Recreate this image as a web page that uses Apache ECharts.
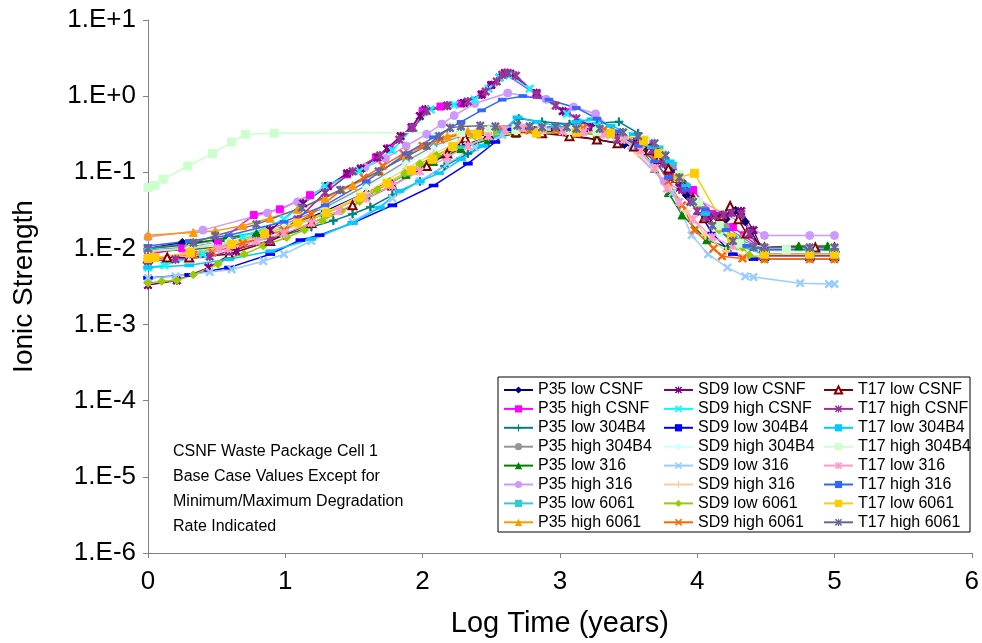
<!DOCTYPE html>
<html>
<head>
<meta charset="utf-8">
<script src="https://cdn.jsdelivr.net/npm/echarts@6/dist/echarts.min.js"></script>
<style>
html,body{margin:0;padding:0;background:#fff;}
#chart{width:982px;height:643px;}
</style>
</head>
<body>
<div id="chart"></div>
<script>
// ---------- tick labels ----------
const yTickLabels = ['1.E-6','1.E-5','1.E-4','1.E-3','1.E-2','1.E-1','1.E+0','1.E+1'];
const xTickLabels = ['0','1','2','3','4','5','6'];
const annotationLines = ['CSNF Waste Package Cell 1','Base Case Values Except for','Minimum/Maximum Degradation','Rate Indicated'];

// ---------- series names ----------
const seriesNames = [
  'P35 low CSNF','P35 high CSNF','P35 low 304B4','P35 high 304B4','P35 low 316','P35 high 316','P35 low 6061','P35 high 6061',
  'SD9 low CSNF','SD9 high CSNF','SD9 low 304B4','SD9 high 304B4','SD9 low 316','SD9 high 316','SD9 low 6061','SD9 high 6061',
  'T17 low CSNF','T17 high CSNF','T17 low 304B4','T17 high 304B4','T17 low 316','T17 high 316','T17 low 6061','T17 high 6061'
];

// ---------- data (x = log time in years, y = ionic strength) ----------
const P35_low_CSNF_x = [0,0.25,0.5,0.79,0.99,1.29,1.59,1.88,2.08,2.28,2.48,2.68,2.87,3.07,3.27,3.47,3.62,3.72,3.82,3.92,4.01,4.11,4.21,4.28,4.35,4.49,4.82,5.0];
const P35_low_CSNF_y = [0.01,0.012,0.0125,0.0149,0.0191,0.0309,0.054,0.094,0.148,0.222,0.288,0.326,0.335,0.307,0.269,0.232,0.195,0.148,0.085,0.05,0.0326,0.0258,0.0241,0.0317,0.0224,0.0084,0.0084,0.0084];

const P35_high_CSNF_x = [0,0.25,0.51,0.77,0.96,1.18,1.31,1.45,1.66,1.76,1.92,2.0,2.13,2.28,2.43,2.5,2.6,2.83,3.05,3.24,3.47,3.67,3.82,3.97,4.11,4.26,4.34,4.49,4.82,5.0];
const P35_high_CSNF_y = [0.0084,0.01,0.0119,0.0275,0.0326,0.05,0.066,0.094,0.157,0.204,0.39,0.635,0.73,0.8,1.05,1.4,1.97,1.05,0.615,0.39,0.288,0.232,0.121,0.0586,0.0283,0.0191,0.0149,0.0092,0.0092,0.0092];

const P35_low_304B4_x = [0,0.3,0.59,0.99,1.19,1.35,1.49,1.62,1.78,1.98,2.16,2.33,2.48,2.6,2.7,2.87,3.07,3.27,3.43,3.57,3.69,3.79,3.89,4.01,4.16,4.31,4.49,4.82,5.0];
const P35_low_304B4_y = [0.0092,0.0096,0.0108,0.0149,0.0191,0.0232,0.0283,0.035,0.05,0.076,0.121,0.176,0.25,0.364,0.508,0.46,0.43,0.44,0.46,0.326,0.222,0.13,0.076,0.0368,0.0199,0.0117,0.01,0.01,0.01];

const P35_high_304B4_x = [0,0.3,0.59,0.99,1.29,1.59,1.88,2.08,2.28,2.48,2.68,2.87,3.07,3.27,3.47,3.62,3.72,3.82,3.92,4.06,4.21,4.33,4.49,4.82,5.0];
const P35_high_304B4_y = [0.01,0.0113,0.0133,0.0207,0.0343,0.067,0.139,0.222,0.298,0.355,0.383,0.383,0.373,0.355,0.307,0.25,0.176,0.112,0.067,0.0326,0.0191,0.0139,0.0092,0.0092,0.0092];

const P35_low_316_x = [0,0.3,0.57,0.79,0.99,1.29,1.59,1.88,2.08,2.28,2.48,2.68,2.87,3.07,3.27,3.47,3.59,3.69,3.79,3.89,4.07,4.22,4.49,4.74,4.95];
const P35_low_316_y = [0.01,0.0113,0.0139,0.0157,0.0191,0.0292,0.05,0.094,0.139,0.204,0.269,0.326,0.345,0.335,0.316,0.269,0.213,0.112,0.054,0.0275,0.013,0.0103,0.0104,0.0108,0.0108];

const P35_high_316_x = [0,0.4,0.87,1.09,1.29,1.58,1.73,1.88,2.03,2.14,2.23,2.38,2.62,2.9,3.1,3.26,3.76,4.49,4.82,5.0];
const P35_high_316_y = [0.0141,0.0174,0.0292,0.041,0.063,0.116,0.152,0.222,0.316,0.43,0.556,0.8,1.1,0.91,0.72,0.586,0.076,0.0148,0.0148,0.0148];

const P35_low_6061_x = [0,0.3,0.59,0.99,1.29,1.59,1.88,2.08,2.28,2.48,2.68,2.87,3.07,3.27,3.47,3.62,3.72,3.82,3.92,4.06,4.26,4.49,4.82,5.0];
const P35_low_6061_y = [0.0096,0.0104,0.0125,0.0174,0.0283,0.05,0.094,0.148,0.213,0.288,0.345,0.364,0.355,0.345,0.316,0.269,0.213,0.13,0.067,0.0283,0.0141,0.0096,0.0096,0.0096];

const P35_high_6061_x = [0,0.33,0.49,0.69,0.89,1.09,1.29,1.49,1.69,1.88,2.03,2.18,2.33,2.48,2.68,2.87,3.07,3.27,3.47,3.62,3.75,3.87,4.01,4.16,4.31,4.49,4.82,5.0];
const P35_high_6061_y = [0.0149,0.0162,0.017,0.0199,0.0249,0.0326,0.0455,0.067,0.103,0.167,0.232,0.298,0.345,0.373,0.383,0.364,0.345,0.335,0.307,0.25,0.157,0.085,0.0368,0.0174,0.0108,0.0096,0.0096,0.0096];

const SD9_low_CSNF_x = [0,0.21,0.44,0.64,0.89,1.13,1.31,1.45,1.55,1.67,1.74,1.84,1.92,1.98,2.02,2.18,2.3,2.43,2.5,2.56,2.6,2.64,2.83,3.02,3.24,3.42,3.57,3.65,3.72,3.79,3.87,3.95,4.01,4.08,4.16,4.24,4.32,4.41,4.49,4.82,5.0];
const SD9_low_CSNF_y = [0.0033,0.0038,0.0056,0.0092,0.0174,0.039,0.066,0.097,0.112,0.157,0.204,0.298,0.39,0.547,0.67,0.75,0.81,1.05,1.4,1.76,2.02,1.97,1.1,0.635,0.39,0.288,0.241,0.213,0.157,0.103,0.063,0.041,0.0309,0.0258,0.0267,0.03,0.0309,0.0174,0.008,0.008,0.008];

const SD9_high_CSNF_x = [0,0.12,0.4,0.69,0.99,1.29,1.54,1.78,1.93,2.06,2.23,2.38,2.48,2.56,2.63,2.78,3.05,3.27,3.47,3.62,3.75,3.87,4.01,4.16,4.31,4.49,4.82,5.0];
const SD9_high_CSNF_y = [0.0056,0.006,0.0084,0.0141,0.0241,0.066,0.103,0.195,0.383,0.67,0.77,0.9,1.25,1.76,1.86,1.25,0.586,0.41,0.298,0.241,0.157,0.085,0.0368,0.0174,0.0108,0.0084,0.0084,0.0084];

const SD9_low_304B4_x = [0,0.3,0.59,0.89,1.11,1.25,1.49,1.78,2.08,2.33,2.53,2.63,2.78,2.97,3.17,3.37,3.57,3.69,3.82,3.97,4.11,4.26,4.41,4.49,4.82,5.0];
const SD9_low_304B4_y = [0.0041,0.0045,0.0056,0.0084,0.0129,0.0149,0.0216,0.0368,0.067,0.13,0.25,0.364,0.383,0.364,0.355,0.326,0.269,0.195,0.103,0.041,0.0157,0.0084,0.0072,0.0072,0.0072,0.0072];

const SD9_high_304B4_x = [0,0.3,0.59,0.99,1.29,1.59,1.88,2.08,2.28,2.48,2.68,2.87,3.07,3.27,3.47,3.62,3.75,3.87,4.01,4.16,4.31,4.49,4.82,5.0];
const SD9_high_304B4_y = [0.0092,0.01,0.0125,0.0191,0.0326,0.063,0.13,0.204,0.288,0.364,0.42,0.40,0.383,0.364,0.326,0.269,0.176,0.085,0.0326,0.0157,0.0108,0.0092,0.0092,0.0092];

const SD9_low_316_x = [0,0.2,0.45,0.61,0.84,0.99,1.19,1.49,1.78,1.98,2.18,2.38,2.58,2.78,2.97,3.17,3.37,3.52,3.67,3.82,3.96,4.08,4.22,4.35,4.41,4.75,4.96,5.0];
const SD9_low_316_y = [0.0041,0.0043,0.0049,0.0053,0.0068,0.0084,0.0125,0.0224,0.0455,0.076,0.13,0.213,0.307,0.364,0.364,0.355,0.307,0.222,0.13,0.054,0.0149,0.0084,0.0056,0.0043,0.0042,0.0035,0.0034,0.0034];

const SD9_high_316_x = [0,0.3,0.59,0.99,1.29,1.59,1.88,2.08,2.28,2.48,2.68,2.87,3.07,3.27,3.42,3.57,3.69,3.79,3.92,4.06,4.21,4.36,4.49,4.82,5.0];
const SD9_high_316_y = [0.0092,0.01,0.0117,0.0174,0.0292,0.054,0.112,0.176,0.26,0.326,0.364,0.373,0.364,0.335,0.269,0.176,0.112,0.063,0.0309,0.0149,0.0092,0.008,0.008,0.008,0.008];

const SD9_low_6061_x = [0,0.1,0.21,0.33,0.51,0.59,0.7,0.84,1.01,1.14,1.27,1.41,1.54,1.67,1.76,1.87,1.98,2.1,2.23,2.38,2.53,2.68,2.87,3.07,3.27,3.47,3.62,3.75,3.87,4.01,4.16,4.33,4.38,4.49,4.82,5.0];
const SD9_low_6061_y = [0.0035,0.0037,0.0038,0.0045,0.0062,0.0076,0.0084,0.0108,0.0139,0.0174,0.0232,0.0309,0.041,0.0586,0.076,0.097,0.13,0.167,0.222,0.298,0.345,0.364,0.364,0.355,0.345,0.307,0.25,0.176,0.085,0.0368,0.0174,0.0103,0.0082,0.0072,0.0072,0.0072];

const SD9_high_6061_x = [0,0.33,0.47,0.69,0.99,1.19,1.41,1.57,1.71,1.86,2.0,2.13,2.28,2.43,2.58,2.78,2.97,3.17,3.32,3.47,3.59,3.69,3.79,3.89,3.98,4.12,4.18,4.33,4.49,4.82,5.0];
const SD9_high_6061_y = [0.0075,0.0083,0.0088,0.0117,0.0174,0.0283,0.0586,0.085,0.121,0.176,0.222,0.269,0.316,0.345,0.364,0.355,0.364,0.383,0.364,0.307,0.232,0.148,0.076,0.0368,0.0174,0.01,0.0079,0.0074,0.0072,0.0072,0.0072];

const T17_low_CSNF_x = [0,0.14,0.3,0.59,0.89,1.19,1.49,1.78,2.03,2.18,2.31,2.48,2.68,2.87,3.07,3.27,3.42,3.54,3.65,3.72,3.79,3.85,3.91,3.97,4.05,4.12,4.18,4.24,4.3,4.36,4.49,4.86,5.0];
const T17_low_CSNF_y = [0.0074,0.0076,0.0076,0.0084,0.0125,0.0216,0.0368,0.067,0.121,0.176,0.279,0.316,0.335,0.326,0.298,0.269,0.241,0.218,0.195,0.148,0.112,0.085,0.063,0.0455,0.0249,0.0241,0.0267,0.036,0.0241,0.0157,0.0103,0.0103,0.0103];

const T17_high_CSNF_x = [0,0.2,0.45,0.59,0.89,1.09,1.29,1.49,1.69,1.83,1.93,2.03,2.18,2.33,2.46,2.54,2.58,2.62,2.68,2.83,2.97,3.12,3.27,3.42,3.57,3.67,3.75,3.82,3.89,3.95,4.0,4.06,4.13,4.19,4.25,4.32,4.38,4.49,4.82,5.0];
const T17_high_CSNF_y = [0.0068,0.0072,0.0078,0.0092,0.0127,0.0241,0.054,0.103,0.167,0.269,0.383,0.635,0.75,0.85,1.15,1.56,1.91,2.02,1.86,1.05,0.75,0.508,0.345,0.269,0.222,0.195,0.13,0.085,0.0586,0.041,0.0309,0.0258,0.0267,0.0275,0.0292,0.0283,0.0157,0.008,0.008,0.008];

const T17_low_304B4_x = [0,0.3,0.59,0.89,1.19,1.49,1.69,1.83,1.98,2.12,2.28,2.44,2.58,2.69,2.83,2.97,3.12,3.23,3.37,3.53,3.67,3.8,3.92,4.06,4.26,4.49,4.82,5.0];
const T17_low_304B4_y = [0.0056,0.006,0.0072,0.0092,0.0133,0.0216,0.0343,0.057,0.076,0.097,0.148,0.222,0.345,0.527,0.46,0.41,0.46,0.498,0.41,0.316,0.213,0.139,0.067,0.0283,0.0117,0.0084,0.0084,0.0084];

const T17_high_304B4_x = [0,0.05,0.11,0.29,0.47,0.61,0.71,0.92,2.28,2.48,2.68,2.87,3.07,3.27,3.47,3.62,3.75,3.87,4.01,4.16,4.31,4.65,5.0];
const T17_high_304B4_y = [0.063,0.067,0.081,0.121,0.176,0.25,0.316,0.326,0.335,0.345,0.364,0.364,0.355,0.345,0.316,0.269,0.176,0.094,0.041,0.0199,0.0117,0.0096,0.0096];

const T17_low_316_x = [0,0.3,0.51,0.58,0.79,0.99,1.19,1.39,1.59,1.78,1.98,2.18,2.33,2.48,2.6,2.73,2.87,3.02,3.17,3.32,3.47,3.59,3.69,3.78,3.87,3.97,4.11,4.26,4.49,4.82,5.0];
const T17_low_316_y = [0.0074,0.0084,0.01,0.01,0.0125,0.0157,0.0216,0.0309,0.0455,0.067,0.103,0.157,0.222,0.298,0.364,0.383,0.364,0.345,0.335,0.316,0.269,0.195,0.112,0.061,0.041,0.0241,0.0141,0.0108,0.01,0.01,0.01];

const T17_high_316_x = [0,0.3,0.59,0.99,1.29,1.59,1.88,2.08,2.28,2.43,2.58,2.73,2.92,3.12,3.27,3.42,3.57,3.69,3.79,3.92,4.06,4.21,4.36,4.49,4.82,5.0];
const T17_high_316_y = [0.0108,0.0125,0.0149,0.0224,0.0368,0.076,0.176,0.288,0.46,0.65,0.9,1.0,0.9,0.7,0.508,0.345,0.222,0.139,0.085,0.0586,0.0326,0.0174,0.0108,0.0096,0.0096,0.0096];

const T17_low_6061_x = [0,0.05,0.31,0.61,0.85,1.09,1.3,1.55,1.74,1.92,2.07,2.22,2.4,2.83,3.12,3.37,3.61,3.72,3.86,3.98,4.25,4.49,4.82,5.0];
const T17_low_6061_y = [0.0074,0.0076,0.0088,0.0113,0.0156,0.0216,0.0292,0.047,0.072,0.106,0.148,0.218,0.316,0.326,0.335,0.326,0.26,0.176,0.085,0.097,0.0139,0.0084,0.0084,0.0084];

const T17_high_6061_x = [0,0.33,0.49,0.79,1.12,1.4,1.68,1.9,2.03,2.12,2.2,2.28,2.42,2.53,2.69,2.78,2.87,2.97,3.05,3.12,3.29,3.46,3.57,3.69,3.77,3.87,3.97,4.11,4.26,4.41,4.49,4.82,5.0];
const T17_high_6061_y = [0.01,0.0119,0.0147,0.0207,0.0343,0.0586,0.103,0.167,0.222,0.298,0.383,0.40,0.41,0.40,0.41,0.40,0.39,0.40,0.39,0.373,0.373,0.335,0.298,0.241,0.167,0.085,0.041,0.0199,0.0125,0.0104,0.0103,0.0103,0.0103];

const seriesX = [P35_low_CSNF_x,P35_high_CSNF_x,P35_low_304B4_x,P35_high_304B4_x,P35_low_316_x,P35_high_316_x,P35_low_6061_x,P35_high_6061_x,
  SD9_low_CSNF_x,SD9_high_CSNF_x,SD9_low_304B4_x,SD9_high_304B4_x,SD9_low_316_x,SD9_high_316_x,SD9_low_6061_x,SD9_high_6061_x,
  T17_low_CSNF_x,T17_high_CSNF_x,T17_low_304B4_x,T17_high_304B4_x,T17_low_316_x,T17_high_316_x,T17_low_6061_x,T17_high_6061_x];
const seriesY = [P35_low_CSNF_y,P35_high_CSNF_y,P35_low_304B4_y,P35_high_304B4_y,P35_low_316_y,P35_high_316_y,P35_low_6061_y,P35_high_6061_y,
  SD9_low_CSNF_y,SD9_high_CSNF_y,SD9_low_304B4_y,SD9_high_304B4_y,SD9_low_316_y,SD9_high_316_y,SD9_low_6061_y,SD9_high_6061_y,
  T17_low_CSNF_y,T17_high_CSNF_y,T17_low_304B4_y,T17_high_304B4_y,T17_low_316_y,T17_high_316_y,T17_low_6061_y,T17_high_6061_y];

// ---------- styles ----------
const SYM_X = 'path://M1.5,0 L5,3.5 L8.5,0 L10,1.5 L6.5,5 L10,8.5 L8.5,10 L5,6.5 L1.5,10 L0,8.5 L3.5,5 L0,1.5 Z';
const SYM_STAR = 'path://M1.5,0 L5,3.5 L8.5,0 L10,1.5 L6.5,5 L10,8.5 L8.5,10 L5,6.5 L1.5,10 L0,8.5 L3.5,5 L0,1.5 Z M4.3,0 L5.7,0 L5.7,10 L4.3,10 Z';
const SYM_PLUS = 'path://M4.2,0 L5.8,0 L5.8,4.2 L10,4.2 L10,5.8 L5.8,5.8 L5.8,10 L4.2,10 L4.2,5.8 L0,5.8 L0,4.2 L4.2,4.2 Z';
const styles = [
  ['#000080','diamond',8],['#FF00FF','rect',7],['#008080',SYM_PLUS,8],['#969696','circle',7],
  ['#008000','triangle',8],['#CC99FF','circle',8],['#33CCCC','rect',[8,3]],['#FF9900','triangle',8],
  ['#800080',SYM_STAR,8],['#00FFFF',SYM_X,8],['#0000FF','rect',[8,3]],['#CCFFFF','diamond',8],
  ['#99CCFF',SYM_X,8],['#FFCC99',SYM_PLUS,8],['#99CC00','diamond',8],['#FF6600',SYM_X,8],
  ['#800000','emptyTriangle',8],['#993399',SYM_STAR,8],['#00CCFF','rect',[8,3]],['#CCFFCC','rect',8],
  ['#FF99CC',SYM_STAR,8],['#3366FF','rect',[7,3]],['#FFCC00','rect',8],['#666699',SYM_STAR,8]
];

const FONT = 'Liberation Sans, Arial, sans-serif';

const series = seriesNames.map((name, i) => {
  const st = styles[i];
  return {
    name: name,
    type: 'line',
    data: seriesX[i].map((x, k) => [x, seriesY[i][k]]),
    symbol: st[1],
    symbolSize: st[2],
    showSymbol: true,
    lineStyle: { color: st[0], width: 1.5 },
    itemStyle: { color: st[0], borderColor: st[0] },
    emphasis: { disabled: true },
    animation: false
  };
});

function legendCol(names, left) {
  return {
    data: names,
    orient: 'vertical',
    left: left,
    top: 382,
    itemWidth: 29,
    itemHeight: 9,
    itemGap: 2.9,
    padding: 0,
    selectedMode: false,
    textStyle: { fontSize: 16, fontFamily: FONT, color: '#000', lineHeight: 16 }
  };
}

const chart = echarts.init(document.getElementById('chart'), null, { renderer: 'canvas' });
chart.setOption({
  backgroundColor: '#fff',
  animation: false,
  grid: { left: 148, right: 9, top: 20, bottom: 84, containLabel: false },
  xAxis: {
    type: 'value', min: 0, max: 6, interval: 1,
    axisLine: { show: true, onZero: false, lineStyle: { color: '#808080', width: 1 } },
    axisTick: { show: true, length: 5, lineStyle: { color: '#808080' } },
    splitLine: { show: false },
    axisLabel: { fontSize: 26, fontFamily: FONT, color: '#000', margin: 16,
      formatter: v => xTickLabels[Math.round(v)] },
    name: 'Log Time (years)', nameLocation: 'middle', nameGap: 56,
    nameTextStyle: { fontSize: 29, fontFamily: FONT, color: '#000' }
  },
  yAxis: {
    type: 'log', logBase: 10, min: 1e-6, max: 10, interval: 1,
    axisLine: { show: true, lineStyle: { color: '#808080', width: 1 } },
    axisTick: { show: true, length: 5, lineStyle: { color: '#808080' } },
    minorTick: { show: false },
    splitLine: { show: false },
    axisLabel: { fontSize: 26, fontFamily: FONT, color: '#000', margin: 12,
      formatter: v => yTickLabels[Math.round(Math.log10(v)) + 6] },
    name: 'Ionic Strength', nameLocation: 'middle', nameGap: 110, nameRotate: 90,
    nameTextStyle: { fontSize: 28, fontFamily: FONT, color: '#000' }
  },
  legend: [
    legendCol(seriesNames.slice(0, 8), 503),
    legendCol(seriesNames.slice(8, 16), 663),
    legendCol(seriesNames.slice(16, 24), 823)
  ],
  graphic: [
    { type: 'rect', z: 1, shape: { x: 498, y: 377, width: 472, height: 155 },
      style: { fill: '#fff', stroke: '#000', lineWidth: 1 } },
    { type: 'text', z: 5, left: 173, top: 439,
      style: { text: annotationLines.join('\n'), font: '16px ' + FONT, fill: '#000', lineHeight: 25 } }
  ],
  series: series
});
</script>
</body>
</html>
